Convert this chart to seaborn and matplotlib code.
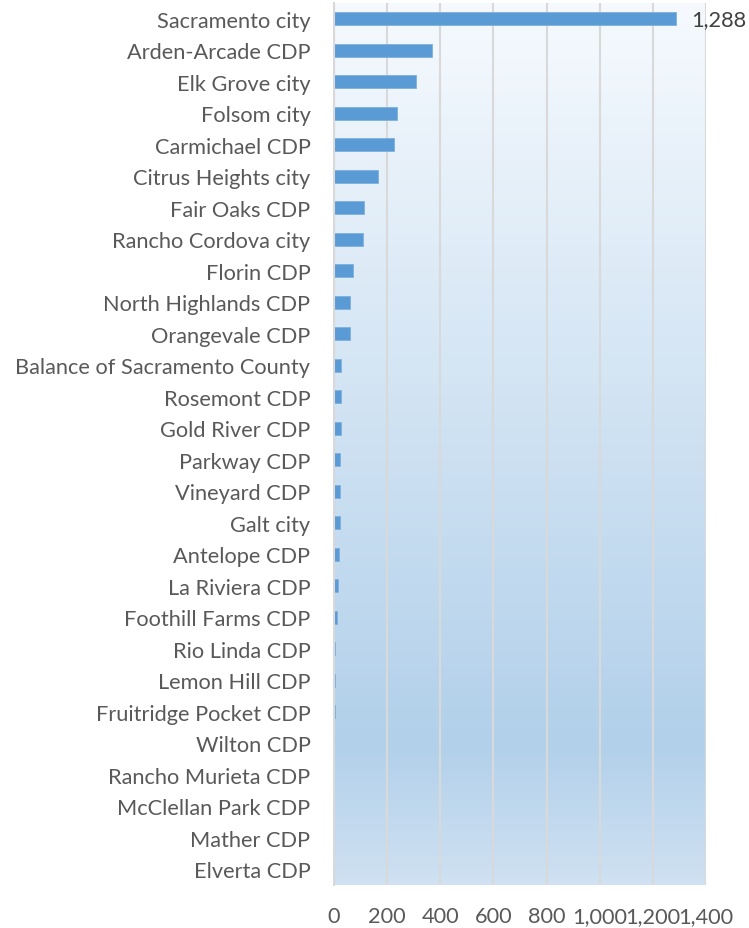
import numpy as np
import pandas as pd
import matplotlib
matplotlib.use("Agg")
import matplotlib.pyplot as plt
import seaborn as sns
from matplotlib.colors import LinearSegmentedColormap

places = ["Sacramento city", "Arden-Arcade CDP", "Elk Grove city", "Folsom city",
          "Carmichael CDP", "Citrus Heights city", "Fair Oaks CDP", "Rancho Cordova city",
          "Florin CDP", "North Highlands CDP", "Orangevale CDP", "Balance of Sacramento County",
          "Rosemont CDP", "Gold River CDP", "Parkway CDP", "Vineyard CDP", "Galt city",
          "Antelope CDP", "La Riviera CDP", "Foothill Farms CDP", "Rio Linda CDP",
          "Lemon Hill CDP", "Fruitridge Pocket CDP", "Wilton CDP", "Rancho Murieta CDP",
          "McClellan Park CDP", "Mather CDP", "Elverta CDP"]
values = [1288, 368, 307, 236, 226, 165, 114, 111, 71, 62, 60, 28, 27, 26, 24, 22, 21,
          18, 15, 13, 5, 5, 5, 0, 0, 0, 0, 0]
xticks = [0, 200, 400, 600, 800, 1000, 1200, 1400]

df = pd.DataFrame({"place": places, "value": values})

sns.set_style("white")
plt.rcParams["font.family"] = ["Lato", "DejaVu Sans"]
FS = 15.7

fig = plt.figure(figsize=(7.49, 9.29), dpi=100)
ax = fig.add_axes([334 / 749, 1 - 886 / 929, (706 - 334) / 749, (886 - 4) / 929])

# gradient background
cmap = LinearSegmentedColormap.from_list(
    "bg", [(0.0, (246/255, 250/255, 254/255)),
           (0.84, (178/255, 208/255, 234/255)),
           (1.0, (207/255, 225/255, 242/255))])
grad = np.linspace(0, 1, 256).reshape(-1, 1)
ax.imshow(grad, cmap=cmap, aspect="auto", extent=[0, 1, 0, 1],
          transform=ax.transAxes, zorder=0, origin="upper")

sns.barplot(data=df, y="place", x="value", orient="h", color="#5B9BD5",
            width=0.42, ax=ax, zorder=3, saturation=1, edgecolor="#7EB0DE", linewidth=0.6)

ax.set_xlim(0, 1400)
ax.set_ylim(len(places) - 0.5, -0.5)
ax.set_xticks(xticks)
ax.set_xticklabels([f"{t:,}" for t in xticks])
ax.xaxis.grid(True, color="#D9D9D9", linewidth=1.5, zorder=1)
for gl in ax.get_xgridlines():
    gl.set_zorder(1)
ax.set_xlabel("")
ax.set_ylabel("")
for s in ["top", "right", "bottom"]:
    ax.spines[s].set_visible(False)
ax.spines["left"].set_color("#D9D9D9")
ax.spines["left"].set_linewidth(1.5)
ax.spines["left"].set_zorder(4)
ax.tick_params(axis="both", length=0, labelsize=FS, colors="#595959")
ax.tick_params(axis="y", pad=17)
ax.tick_params(axis="x", pad=15)

ax.text(1288 + 55, 0, "1,288", va="center", ha="left", fontsize=FS,
        color="#404040", clip_on=False)

fig.savefig("out.png", dpi=100)
